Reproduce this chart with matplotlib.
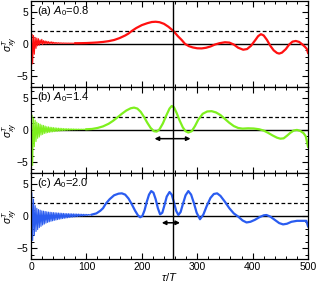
import numpy as np
import matplotlib
matplotlib.use('Agg')
import matplotlib.pyplot as plt

plt.rcParams['font.family'] = ['Liberation Sans', 'DejaVu Sans']
plt.rcParams['mathtext.fontset'] = 'custom'
plt.rcParams['mathtext.rm'] = 'Liberation Sans'
plt.rcParams['mathtext.it'] = 'Liberation Sans:italic'

# early fast oscillations, sampled every 1.5 tau/T
noise_step = 1.5

# --- panel (a) A0=0.8 ---
noise_a = [0, 1.5, -3.1, 1.3, -1.6, 1.0, -0.7, 0.9, -0.3, 0.8, -0.2, 0.6, 0.0, 0.7, -0.1,
           0.5, 0.05, 0.45, 0.0, 0.4, 0.05, 0.35, 0.02, 0.3, 0.06, 0.32, 0.04, 0.25, 0.07,
           0.22, 0.06, 0.2, 0.08, 0.18, 0.08, 0.17, 0.09, 0.15, 0.09, 0.14, 0.1, 0.13, 0.1,
           0.12, 0.1, 0.12, 0.1, 0.11, 0.1, 0.11, 0.1, 0.1, 0.1]
tau_a = [80, 90, 100, 110, 120, 130, 140, 150, 160, 170, 176, 182, 190, 200, 210, 218, 225,
         232, 240, 248, 257, 265, 272, 278, 285, 292, 300, 308, 316, 324, 332, 340, 350, 358,
         366, 374, 383, 390, 397, 405, 410, 415, 420, 426, 432, 438, 444, 448, 453, 460, 466,
         472, 478, 484, 490, 495, 498, 500]
val_a = [0.1, 0.11, 0.13, 0.17, 0.22, 0.3, 0.42, 0.6, 0.9, 1.3, 1.6, 2.0, 2.45, 2.9, 3.2,
         3.38, 3.42, 3.35, 3.1, 2.65, 2.0, 1.2, 0.6, 0.0, -0.35, -0.55, -0.68, -0.7, -0.6,
         -0.4, -0.1, 0.1, 0.25, 0.2, -0.1, -0.6, -0.9, -0.8, -0.3, 0.6, 1.2, 1.5, 1.3, 0.6,
         -0.3, -1.0, -1.4, -1.5, -1.35, -0.8, -0.1, 0.35, 0.45, 0.3, -0.1, -0.5, -0.8, -1.4]

# --- panel (b) A0=1.4 ---
noise_b = [0, 2.3, -5.5, 1.8, -2.6, 1.5, -1.8, 1.2, -1.3, 1.0, -1.1, 0.9, -0.8, 0.75, -0.7,
           0.7, -0.55, 0.6, -0.5, 0.5, -0.42, 0.48, -0.38, 0.42, -0.33, 0.4, -0.3, 0.36,
           -0.26, 0.33, -0.24, 0.3, -0.2, 0.28, -0.17, 0.26, -0.15, 0.24, -0.12, 0.22, -0.1,
           0.21, -0.08, 0.2, -0.06, 0.19, -0.04, 0.18, -0.02, 0.17, 0.0, 0.16, 0.01, 0.15,
           0.02, 0.14, 0.03, 0.14, 0.04, 0.13, 0.05, 0.13, 0.06, 0.12, 0.07, 0.12, 0.08]
tau_b = [100, 110, 120, 130, 140, 148, 157, 164, 172, 180, 186, 192, 198, 204, 210, 216, 222,
         227, 232, 238, 244, 250, 254, 258, 263, 268, 274, 279, 284, 290, 296, 302, 310, 318,
         326, 334, 342, 350, 358, 366, 374, 382, 392, 402, 412, 420, 428, 436, 444, 450, 456,
         462, 468, 474, 480, 486, 492, 496, 500]
val_b = [0.1, 0.15, 0.3, 0.55, 0.95, 1.4, 2.0, 2.5, 3.0, 3.35, 3.45, 3.3, 2.8, 2.0, 1.1, 0.3,
         -0.2, -0.25, 0.1, 1.0, 2.2, 3.3, 3.7, 3.5, 2.6, 1.5, 0.4, -0.2, -0.4, -0.2, 0.6, 1.6,
         2.5, 2.85, 2.9, 2.7, 2.3, 1.7, 1.1, 0.6, 0.3, 0.2, 0.25, 0.22, 0.1, -0.1, -0.45,
         -0.85, -1.2, -1.35, -1.3, -0.9, -0.45, -0.1, 0.0, -0.15, -0.5, -1.0, -2.6]

# --- panel (c) A0=2.0 ---
noise_c = [0, 3.6, -3.8, 2.6, -3.0, 1.6, -2.4, 1.2, -2.1, 1.0, -1.8, 0.9, -1.6, 0.8, -1.4,
           0.75, -1.25, 0.7, -1.1, 0.65, -1.0, 0.6, -0.9, 0.58, -0.82, 0.55, -0.75, 0.52,
           -0.68, 0.5, -0.62, 0.48, -0.56, 0.46, -0.5, 0.44, -0.45, 0.42, -0.4, 0.4, -0.36,
           0.38, -0.32, 0.37, -0.28, 0.36, -0.24, 0.35, -0.2, 0.34, -0.17, 0.33, -0.14, 0.32,
           -0.11, 0.31, -0.08, 0.3, -0.05, 0.29, -0.02, 0.28, 0.0, 0.27, 0.03, 0.26, 0.06,
           0.25, 0.09, 0.24, 0.12, 0.23, 0.15, 0.22]
tau_c = [110, 118, 125, 130, 135, 142, 150, 158, 164, 170, 176, 182, 188, 193, 197, 201, 205,
         209, 213, 217, 221, 225, 229, 233, 237, 241, 245, 250, 254, 258, 262, 266, 270, 274,
         279, 284, 289, 294, 299, 305, 311, 317, 324, 330, 336, 342, 350, 358, 366, 374, 382,
         389, 396, 404, 412, 420, 425, 432, 440, 448, 455, 462, 470, 480, 490, 497, 500]
val_c = [0.22, 0.4, 0.8, 1.2, 1.9, 2.6, 3.2, 3.45, 3.5, 3.3, 2.7, 1.8, 0.8, 0.1, -0.2, 0.0,
         0.9, 2.2, 3.3, 3.85, 3.6, 2.6, 1.2, 0.25, 0.5, 1.7, 3.0, 3.7, 3.3, 2.1, 0.8, 0.15,
         0.6, 1.8, 3.2, 3.85, 3.3, 2.0, 0.5, -0.5, 0.2, 1.5, 2.8, 3.4, 3.5, 3.1, 2.2, 1.2,
         0.4, -0.1, -0.7, -1.0, -0.9, -0.6, -0.2, 0.1, 0.15, -0.1, -0.6, -1.1, -1.3, -1.2,
         -0.9, -0.75, -0.75, -0.75, -1.6]

labels = [r'(a) $A_0$=0.8', r'(b) $A_0$=1.4', r'(c) $A_0$=2.0']
colors = ['#ff1010', '#7ef01e', '#2a5cf0']
tau_mark = 257
dashed_level = 2.0
arrows = [None, (223, 288, -1.35), (236, 269, -1.05)]

panels = [(noise_a, tau_a, val_a), (noise_b, tau_b, val_b), (noise_c, tau_c, val_c)]

fig, axes = plt.subplots(3, 1, figsize=(3.18, 2.85), dpi=100, sharex=True)
fig.subplots_adjust(left=0.0975, right=0.9686, top=0.997, bottom=0.0912, hspace=0)

for ax, (noise, tau, val), lab, col, arr in zip(axes, panels, labels, colors, arrows):
    t_noise = np.arange(len(noise)) * noise_step
    ax.axhline(0, color='black', lw=1.0, zorder=1)
    ax.axhline(dashed_level, color='black', lw=0.9, ls=(0, (3, 2)), zorder=1)
    # thin line for the fast early oscillations, thicker for the smooth part
    ax.plot(np.append(t_noise, tau[0]), np.append(noise, val[0]), color=col, lw=0.8, zorder=2)
    ax.plot(tau, val, color=col, lw=1.6, zorder=2)
    ax.axvline(tau_mark, color='black', lw=1.0, zorder=3)
    if arr is not None:
        ax.annotate('', xy=(arr[0], arr[2]), xytext=(arr[1], arr[2]),
                    arrowprops=dict(arrowstyle='<|-|>', color='black', lw=1.1,
                                    mutation_scale=6, shrinkA=0, shrinkB=0), zorder=4)
    ax.text(0.02, 0.88, lab, transform=ax.transAxes, fontsize=8, va='center', ha='left')
    ax.set_ylim(-6.65, 6.65)
    ax.set_xlim(0, 500)
    ax.set_yticks([-5, 0, 5])
    ax.set_yticks(np.arange(-6, 7, 1), minor=True)
    ax.set_xticks([0, 100, 200, 300, 400, 500])
    ax.set_xticks(np.arange(0, 501, 20), minor=True)
    ax.tick_params(which='both', direction='in', top=True, right=True, labelsize=7.5, pad=2)
    ax.tick_params(which='major', length=4, width=0.8)
    ax.tick_params(which='minor', length=2.2, width=0.7)
    ax.set_ylabel(r'$\sigma^T_{xy}$', fontsize=7.5)
    ax.yaxis.set_label_coords(-0.04, 0.5)
    for s in ax.spines.values():
        s.set_linewidth(0.9)

axes[-1].set_xlabel(r'$\tau/T$', fontsize=8)
axes[-1].xaxis.set_label_coords(0.5, -0.14)

plt.savefig('out.png', dpi=100)
